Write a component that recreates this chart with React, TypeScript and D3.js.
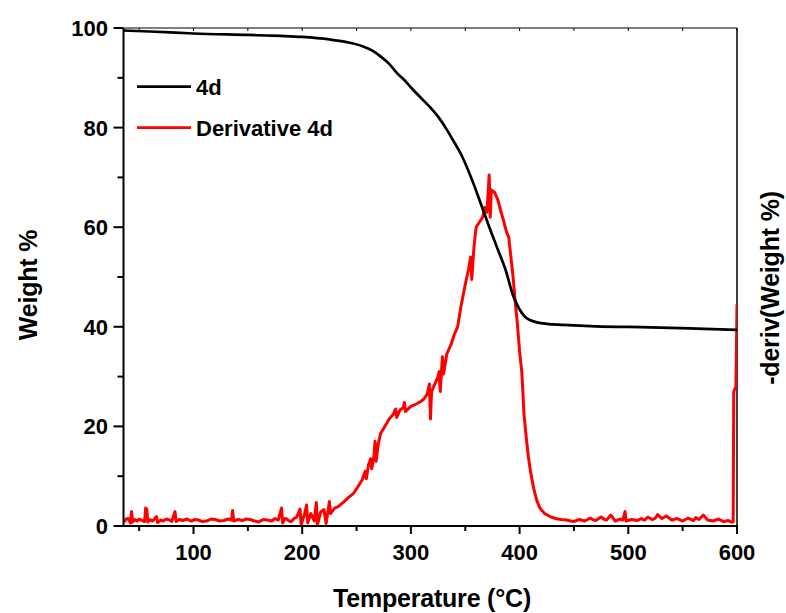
import React from "react";
import * as d3 from "d3";

const xTicks = [100, 200, 300, 400, 500, 600];
const xMinorTicks = [50, 150, 250, 350, 450, 550];
const yTicks = [0, 20, 40, 60, 80, 100];
const yMinorTicks = [10, 30, 50, 70, 90];

const weightTemp = [35, 60, 100, 150, 180, 200, 225, 240, 256, 265, 272, 280, 287, 295, 302, 310, 318, 326, 333, 340, 346, 352, 358, 365, 373, 380, 387, 394, 398, 402, 406, 410, 416, 425, 440, 470, 520, 570, 600];
const weightVal = [99.5, 99.3, 98.9, 98.6, 98.4, 98.2, 97.7, 97.2, 96.3, 95.4, 94.3, 92.8, 91.0, 89.3, 87.6, 85.8, 84.0, 81.9, 79.6, 77.0, 74.7, 71.8, 68.5, 64.3, 59.5, 55.5, 51.5, 46.3, 44.3, 42.8, 41.8, 41.3, 40.9, 40.6, 40.4, 40.1, 39.9, 39.6, 39.4];

const derivTemp = [36, 38, 40, 42, 43, 44, 46, 48, 50, 52, 55, 56, 57, 58, 60, 62, 64, 66, 67, 70, 72, 75, 78, 80, 83, 84, 87, 90, 94, 98, 101, 105, 108, 112, 116, 120, 124, 128, 132, 135, 136, 137, 141, 145, 148, 152, 156, 160, 164, 168, 172, 175, 178, 181, 182, 184, 186, 188, 190, 193, 195, 198, 199, 202, 204, 205, 208, 211, 213, 214, 217, 220, 222, 225, 226, 230, 233, 238, 243, 247, 251, 255, 258, 259, 261, 263, 264, 266, 267, 268, 270, 272, 276, 280, 284, 286, 287, 290, 293, 294, 295, 300, 305, 309, 312, 315, 317, 318, 319, 322, 325, 326, 327, 329, 330, 333, 337, 340, 343, 346, 350, 353, 355, 356, 358, 360, 363, 366, 368, 370, 372, 373, 374, 377, 380, 383, 385, 388, 390, 392, 394, 396, 398, 400, 402, 403, 404, 406, 408, 410, 413, 416, 419, 423, 428, 433, 438, 443, 447, 450, 455, 458, 460, 465, 468, 470, 475, 478, 480, 484, 488, 492, 495, 497, 498, 503, 508, 512, 515, 518, 522, 525, 527, 531, 535, 540, 545, 550, 555, 560, 562, 565, 569, 573, 578, 583, 588, 592, 595, 596.5, 597, 599, 600];
const derivVal = [0.008, 0.014, 0.015, 0.006, 0.029, 0.008, 0.013, 0.010, 0.014, 0.012, 0.009, 0.036, 0.034, 0.008, 0.013, 0.010, 0.014, 0.019, 0.007, 0.012, 0.010, 0.014, 0.012, 0.009, 0.029, 0.009, 0.013, 0.011, 0.014, 0.010, 0.013, 0.012, 0.009, 0.010, 0.014, 0.013, 0.010, 0.011, 0.014, 0.012, 0.031, 0.010, 0.013, 0.011, 0.014, 0.013, 0.010, 0.008, 0.013, 0.012, 0.010, 0.015, 0.012, 0.036, 0.006, 0.015, 0.014, 0.010, 0.009, 0.016, 0.018, 0.034, 0.003, 0.022, 0.042, 0.006, 0.025, 0.010, 0.047, 0.002, 0.028, 0.033, 0.005, 0.049, 0.025, 0.036, 0.039, 0.048, 0.058, 0.065, 0.078, 0.092, 0.110, 0.095, 0.123, 0.135, 0.115, 0.140, 0.170, 0.130, 0.165, 0.185, 0.200, 0.215, 0.225, 0.235, 0.218, 0.233, 0.238, 0.248, 0.230, 0.240, 0.245, 0.250, 0.255, 0.265, 0.285, 0.215, 0.270, 0.285, 0.300, 0.310, 0.270, 0.340, 0.305, 0.345, 0.365, 0.385, 0.400, 0.440, 0.485, 0.515, 0.540, 0.495, 0.560, 0.600, 0.610, 0.620, 0.640, 0.630, 0.705, 0.620, 0.675, 0.670, 0.655, 0.630, 0.615, 0.590, 0.580, 0.540, 0.500, 0.450, 0.405, 0.350, 0.310, 0.270, 0.225, 0.180, 0.140, 0.110, 0.075, 0.050, 0.035, 0.025, 0.019, 0.015, 0.013, 0.012, 0.010, 0.009, 0.013, 0.011, 0.010, 0.016, 0.012, 0.011, 0.018, 0.013, 0.012, 0.022, 0.010, 0.014, 0.012, 0.029, 0.010, 0.013, 0.011, 0.015, 0.012, 0.018, 0.013, 0.016, 0.023, 0.015, 0.020, 0.012, 0.015, 0.010, 0.016, 0.011, 0.017, 0.013, 0.022, 0.012, 0.010, 0.014, 0.009, 0.011, 0.008, 0.008, 0.270, 0.280, 0.445];

const legendLabels = ["4d", "Derivative 4d"];
const legendColors = ["#000000", "#ff0000"];

const W = 786;
const H = 613;
const M = { left: 123.5, right: 737, top: 28, bottom: 526 };
const FONT = "'Liberation Sans', Arial, Helvetica, sans-serif";

export default function App() {
  const x = d3.scaleLinear().domain([35.6, 600]).range([M.left, M.right]);
  const y = d3.scaleLinear().domain([0, 100]).range([M.bottom, M.top]);
  const y2 = d3.scaleLinear().domain([0, 1]).range([M.bottom, M.top]);

  const weightLine = d3
    .line<number>()
    .x((_, i) => x(weightTemp[i]))
    .y((d) => y(d))
    .curve(d3.curveMonotoneX);
  const derivLine = d3
    .line<number>()
    .x((_, i) => x(derivTemp[i]))
    .y((d) => y2(d));

  return (
    <svg
      width={W}
      height={H}
      style={{ position: "absolute", left: 0, top: 0, background: "#fff" }}
      fontFamily={FONT}
    >
      <defs>
        <clipPath id="plotclip">
          <rect x={M.left} y={M.top} width={M.right - M.left} height={M.bottom - M.top} />
        </clipPath>
      </defs>
      <rect x={0} y={0} width={W} height={H} fill="#fff" />

      {/* top axis */}
      <line x1={M.left} x2={M.right} y1={M.top} y2={M.top} stroke="#000" strokeWidth={1.2} />
      {[...xTicks, ...xMinorTicks].map((t) => (
        <line key={"tt" + t} x1={x(t)} x2={x(t)} y1={M.top} y2={M.top + 3} stroke="#000" strokeWidth={1} />
      ))}
      {/* right axis */}
      <line x1={M.right} x2={M.right} y1={M.top} y2={M.bottom} stroke="#000" strokeWidth={1.5} />

      {/* data */}
      <g clipPath="url(#plotclip)">
        <path d={derivLine(derivVal) || ""} fill="none" stroke="#ff0000" strokeWidth={3} strokeLinejoin="round" />
        <path d={weightLine(weightVal) || ""} fill="none" stroke="#000" strokeWidth={2.7} />
      </g>

      {/* bottom axis */}
      <line x1={M.left - 1} x2={M.right + 1} y1={M.bottom} y2={M.bottom} stroke="#000" strokeWidth={2} />
      {xTicks.map((t) => (
        <g key={"xt" + t}>
          <line x1={x(t)} x2={x(t)} y1={M.bottom} y2={M.bottom + 8} stroke="#000" strokeWidth={2} />
          <text x={x(t)} y={560} textAnchor="middle" fontSize={22} fontWeight="bold">
            {t}
          </text>
        </g>
      ))}
      {xMinorTicks.map((t) => (
        <line key={"xm" + t} x1={x(t)} x2={x(t)} y1={M.bottom} y2={M.bottom + 5} stroke="#000" strokeWidth={2} />
      ))}

      {/* left axis */}
      <line x1={M.left} x2={M.left} y1={M.top} y2={M.bottom + 1} stroke="#000" strokeWidth={2} />
      {yTicks.map((t) => (
        <g key={"yt" + t}>
          <line x1={M.left - 10} x2={M.left} y1={y(t)} y2={y(t)} stroke="#000" strokeWidth={2} />
          <text x={108} y={y(t) + 8} textAnchor="end" fontSize={22} fontWeight="bold">
            {t}
          </text>
        </g>
      ))}
      {yMinorTicks.map((t) => (
        <line key={"ym" + t} x1={M.left - 6} x2={M.left} y1={y(t)} y2={y(t)} stroke="#000" strokeWidth={2} />
      ))}

      {/* axis titles */}
      <text x={432} y={607} textAnchor="middle" fontSize={25} fontWeight="bold" letterSpacing={-0.2}>
        Temperature (°C)
      </text>
      <text
        transform={`translate(37, ${(M.top + M.bottom) / 2 + 8}) rotate(-90)`}
        textAnchor="middle"
        fontSize={25}
        fontWeight="bold"
        letterSpacing={-0.2}
      >
        Weight %
      </text>
      <text
        transform={`translate(779, 288) rotate(-90)`}
        textAnchor="middle"
        fontSize={25}
        fontWeight="bold"
        letterSpacing={-0.2}
      >
        -deriv(Weight %)
      </text>

      {/* legend */}
      {legendLabels.map((lab, i) => (
        <g key={lab}>
          <line x1={137} x2={191} y1={86.7 + i * 41} y2={86.7 + i * 41} stroke={legendColors[i]} strokeWidth={2.7} />
          <text x={196} y={94.5 + i * 41} fontSize={22} fontWeight="bold">
            {lab}
          </text>
        </g>
      ))}
    </svg>
  );
}
